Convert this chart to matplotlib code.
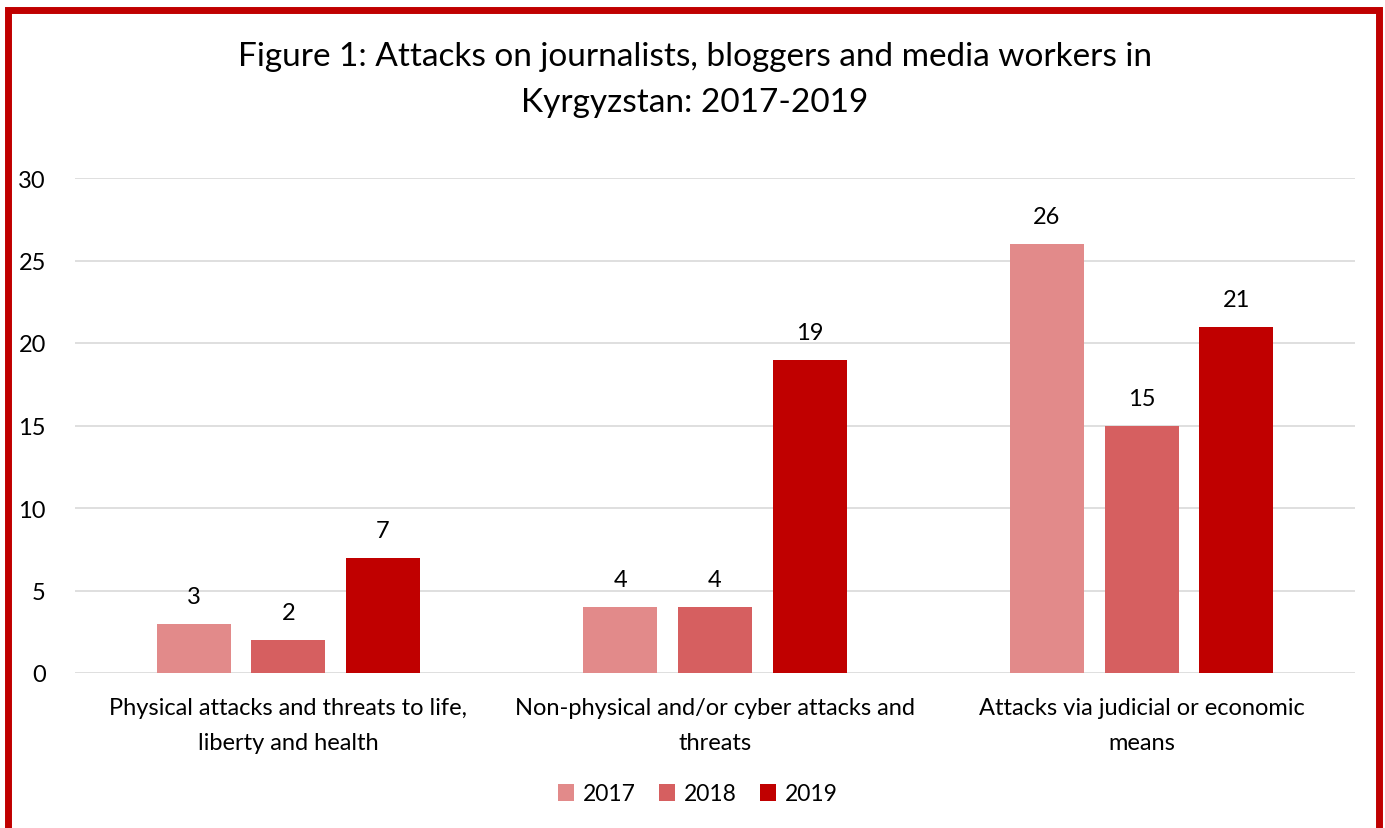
import matplotlib.pyplot as plt
import numpy as np
from matplotlib.patches import Rectangle

plt.rcParams['font.family'] = ['Lato', 'DejaVu Sans']

categories = ['Physical attacks and threats to life,\nliberty and health',
              'Non-physical and/or cyber attacks and\nthreats',
              'Attacks via judicial or economic\nmeans']
years = ['2017', '2018', '2019']
v2017 = [3, 4, 26]
v2018 = [2, 4, 15]
v2019 = [7, 19, 21]
colors = ['#E28A8A', '#D65F60', '#C00000']

fig = plt.figure(figsize=(13.85, 8.29), dpi=100)
ax = fig.add_axes([75 / 1385, 1 - 674 / 829, 1280 / 1385, 495 / 829])

x = np.arange(len(categories))
w = 0.173
step = 0.222
for i, (vals, c, yr) in enumerate(zip([v2017, v2018, v2019], colors, years)):
    bars = ax.bar(x + (i - 1) * step, vals, w, color=c, label=yr, zorder=2)
    for b, v in zip(bars, vals):
        ax.annotate(str(v), (b.get_x() + b.get_width() / 2, v), xytext=(0, 12),
                    textcoords='offset points', ha='center', va='bottom', fontsize=17)

ax.set_xlim(-0.5, 2.5)
ax.set_ylim(0, 30)
ax.set_yticks(range(0, 31, 5))
ax.yaxis.grid(True, color='#D9D9D9', linewidth=1.2, zorder=0)
ax.set_axisbelow(True)
for s in ax.spines.values():
    s.set_visible(False)
ax.tick_params(axis='both', length=0, labelsize=17)
ax.tick_params(axis='y', pad=21)
ax.tick_params(axis='x', pad=17)
ax.set_xticks(x)
ax.set_xticklabels(categories, linespacing=1.85)
for lbl in ax.get_yticklabels():
    lbl.set_horizontalalignment('right')

fig.text(695 / 1385, 1 - 80 / 829, 'Figure 1: Attacks on journalists, bloggers and media workers in\nKyrgyzstan: 2017-2019',
         ha='center', va='center', fontsize=24, linespacing=1.7)

fig.legend(loc='center', bbox_to_anchor=(698 / 1385, 1 - 795 / 829), ncol=3, frameon=False,
           fontsize=16.5, handlelength=0.7, handleheight=0.7, columnspacing=1.0, handletextpad=0.4)

fig.patches.append(Rectangle((8 / 1385, -0.05), 1371 / 1385, 1.05 - 11 / 829,
                             transform=fig.transFigure, fill=False, edgecolor='#C00000',
                             linewidth=5))

fig.savefig('out.png', dpi=100)
